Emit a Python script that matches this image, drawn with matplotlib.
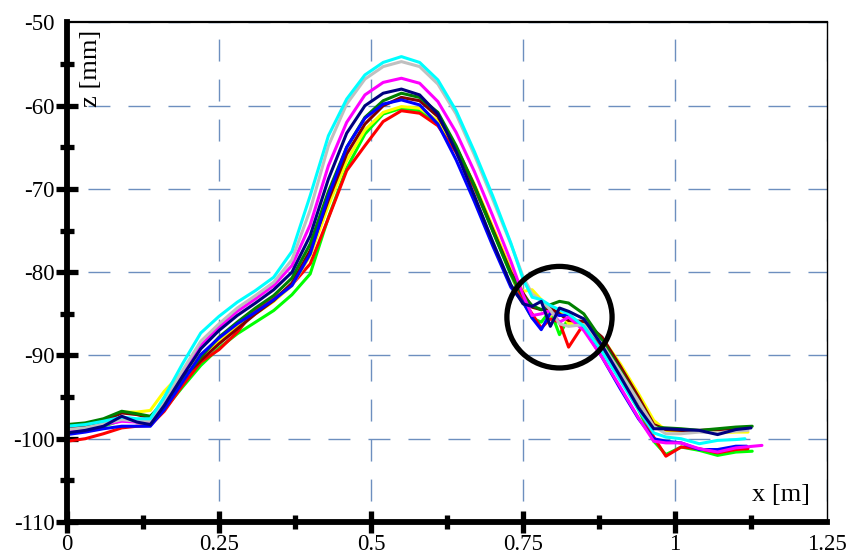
import matplotlib
matplotlib.use("Agg")
import matplotlib.pyplot as plt
from matplotlib.patches import Ellipse

plt.rcParams['font.family'] = ['Liberation Serif', 'DejaVu Serif']

# shared x positions [m]
x_grid = [0.00, 0.03, 0.06, 0.09, 0.115, 0.137, 0.16, 0.19, 0.22, 0.25,
          0.28, 0.31, 0.34, 0.37, 0.40, 0.43, 0.46, 0.49, 0.52, 0.55,
          0.58, 0.61, 0.64, 0.67, 0.70, 0.73, 0.75, 0.765, 0.78, 0.795,
          0.81, 0.825, 0.85, 0.88, 0.91, 0.94, 0.965, 0.985, 1.01, 1.04,
          1.07, 1.10]

# z profiles [mm], one per run
z_lime = [-99.2, -99.0, -98.5, -97.8, -97.9, -98.0, -96.5, -93.8, -91.2, -89.1,
          -87.4, -86.0, -84.6, -82.7, -80.2, -73.4, -67.5, -63.4, -61.0, -60.3,
          -60.6, -62.0, -65.3, -69.8, -75.0, -80.3, -83.5, -85.5, -86.0, -84.6,
          -87.5, -85.5, -86.4, -89.3, -92.8, -96.5, -100.3, -101.9, -101.0, -101.4,
          -102.0, -101.6]
z_red = [-100.3, -100.0, -99.4, -98.7, -98.5, -98.4, -96.7, -93.6, -90.8, -89.3,
         -87.2, -84.5, -83.2, -81.5, -79.0, -73.5, -67.8, -64.8, -61.9, -60.6,
         -60.9, -62.4, -65.6, -69.8, -74.8, -80.0, -83.4, -85.0, -86.7, -85.6,
         -86.0, -89.0, -86.2, -89.0, -92.6, -96.3, -99.8, -102.1, -101.0, -101.2,
         -101.7, -101.3]
z_yellow = [-98.8, -98.5, -97.8, -96.8, -96.8, -96.6, -94.3, -92.0, -89.9, -88.3,
            -86.6, -85.0, -83.5, -81.6, -78.0, -72.0, -66.6, -62.9, -60.8, -60.1,
            -60.3, -61.8, -65.0, -69.4, -74.5, -79.6, -82.3, -82.1, -83.3, -85.2,
            -84.6, -86.2, -86.0, -87.9, -91.0, -94.6, -97.8, -99.0, -99.1, -99.1,
            -99.3, -99.2]
z_maroon = [-98.7, -98.5, -97.9, -96.9, -97.1, -97.5, -95.3, -92.7, -90.6, -88.6,
            -86.8, -85.0, -83.4, -81.3, -77.4, -71.3, -65.8, -62.2, -60.0, -59.0,
            -59.4, -61.3, -65.0, -69.6, -74.8, -80.0, -82.5, -84.2, -84.5, -84.3,
            -85.0, -85.8, -85.9, -87.8, -91.3, -95.0, -98.3, -98.9, -99.0, -99.0,
            -98.9, -98.8]
z_green = [-98.3, -98.1, -97.6, -96.7, -97.0, -97.3, -95.6, -93.0, -90.2, -87.8,
           -86.0, -84.3, -82.8, -80.7, -76.6, -70.3, -65.0, -61.4, -59.4, -58.5,
           -59.0, -60.8, -64.8, -69.6, -75.0, -80.2, -82.8, -84.0, -84.5, -83.9,
           -83.5, -83.7, -85.0, -88.2, -91.8, -95.5, -98.6, -98.7, -98.8, -99.0,
           -98.8, -98.6]
z_blue = [-99.5, -99.2, -98.8, -98.5, -98.5, -98.5, -96.5, -93.2, -89.9, -87.9,
          -86.2, -84.8, -83.3, -81.6, -77.8, -70.8, -65.0, -61.5, -59.8, -59.3,
          -59.9, -62.2, -66.5, -71.5, -76.8, -81.8, -83.6, -85.5, -86.9, -84.9,
          -85.2, -85.1, -86.8, -90.2, -94.0, -97.6, -100.0, -100.3, -100.5, -101.3,
          -101.3, -100.9]
z_magenta = [-99.0, -98.8, -98.3, -97.9, -98.0, -98.1, -95.8, -92.2, -88.8, -86.6,
             -84.7, -83.2, -81.6, -79.2, -74.3, -67.2, -62.0, -58.7, -57.2, -56.7,
             -57.3, -59.5, -63.2, -67.9, -73.2, -78.7, -82.7, -85.2, -85.0, -84.6,
             -86.0, -85.4, -87.0, -90.2, -93.8, -97.5, -100.3, -100.5, -100.5, -101.2,
             -101.6, -101.1]
z_silver = [-98.9, -98.7, -98.2, -97.7, -97.9, -97.9, -95.6, -91.8, -88.3, -86.2,
            -84.3, -82.8, -81.2, -78.5, -72.5, -64.8, -59.8, -56.8, -55.3, -54.7,
            -55.3, -57.4, -61.0, -65.9, -71.2, -76.6, -80.5, -82.6, -83.4, -84.5,
            -86.2, -86.5, -86.3, -88.6, -92.0, -95.5, -98.5, -99.4, -99.4, -99.2,
            -99.3, -99.1]
z_cyan = [-98.5, -98.3, -97.9, -97.4, -97.6, -97.6, -95.0, -91.0, -87.3, -85.3,
          -83.6, -82.2, -80.6, -77.5, -70.8, -63.6, -59.2, -56.3, -54.8, -54.1,
          -54.8, -56.9, -60.6, -65.5, -70.8, -76.5, -80.8, -83.0, -83.3, -84.0,
          -84.5, -85.0, -86.5, -89.5, -93.0, -96.5, -99.3, -99.8, -100.0, -100.6,
          -100.2, -100.1]
z_navy = [-99.3, -99.0, -98.5, -97.3, -98.0, -98.3, -96.0, -92.5, -89.2, -87.0,
          -85.2, -83.7, -82.1, -80.0, -75.6, -68.8, -63.3, -60.0, -58.5, -58.0,
          -58.7, -61.0, -65.5, -70.8, -76.3, -81.5, -83.8, -84.1, -83.5, -86.5,
          -84.3, -84.7, -85.6, -88.8, -92.5, -96.3, -98.8, -98.8, -98.9, -99.0,
          -99.5, -98.9]

# last point of each run
end_x = [1.127, 1.12, 1.12, 1.115, 1.127, 1.118, 1.143, 1.12, 1.115, 1.125]
end_z = [-101.5, -101.2, -99.2, -98.8, -98.5, -100.9, -100.8, -99.0, -100.0, -98.7]

runs = [z_lime, z_red, z_yellow, z_maroon, z_green, z_blue, z_magenta,
        z_silver, z_cyan, z_navy]
colors = ['#00ff00', '#ff0000', '#ffff00', '#800000', '#008000', '#0000ff',
          '#ff00ff', '#c0c0c0', '#00ffff', '#000080']

x_ticks = [0, 0.25, 0.5, 0.75, 1.0, 1.25]
x_labels = ['0', '0.25', '0.5', '0.75', '1', '1.25']
y_ticks = [-110, -100, -90, -80, -70, -60, -50]
y_labels = ['-110', '-100', '-90', '-80', '-70', '-60', '-50']

fig = plt.figure(figsize=(8.49, 5.55), dpi=100)
ax = fig.add_axes([0.0789, 0.0595, 0.8952, 0.9])

for z, c, xe, ze in zip(runs, colors, end_x, end_z):
    ax.plot(x_grid + [xe], z + [ze], color=c, lw=2.2,
            solid_joinstyle='round', solid_capstyle='round')

ax.add_patch(Ellipse((0.810, -85.4), 0.173, 12.2, fill=False,
                     edgecolor='black', lw=3.8, zorder=5))

ax.set_xlim(0, 1.25)
ax.set_ylim(-110, -50)
ax.set_xticks(x_ticks)
ax.set_xticklabels(x_labels)
ax.set_yticks(y_ticks)
ax.set_yticklabels(y_labels)
ax.set_xticks([0.125, 0.375, 0.625, 0.875, 1.125], minor=True)
ax.set_yticks([-105, -95, -85, -75, -65, -55], minor=True)

ax.grid(True, which='major', color='#6d8fbf', lw=1.0,
        linestyle=(13.7, (15.8, 13.0)))
ax.set_axisbelow(True)

ax.tick_params(which='major', direction='inout', length=16, width=3.8,
               labelsize=16.5, pad=1, color='black')
ax.tick_params(which='minor', direction='inout', length=10, width=3.8,
               color='black')
ax.xaxis.get_major_ticks()[-1].tick1line.set_visible(False)
ax.yaxis.get_major_ticks()[-1].tick1line.set_visible(False)

ax.spines['left'].set_linewidth(4.2)
ax.spines['bottom'].set_linewidth(4.2)
ax.spines['top'].set_linewidth(1.6)
ax.spines['right'].set_linewidth(1.0)
for s in ax.spines.values():
    s.set_zorder(6)

ax.text(0.032, 0.908, 'z [mm]', transform=ax.transAxes, rotation=90,
        ha='center', va='center', fontsize=19)
ax.text(0.939, 0.054, 'x [m]', transform=ax.transAxes,
        ha='center', va='center', fontsize=19)

fig.savefig('out.png', dpi=100)
